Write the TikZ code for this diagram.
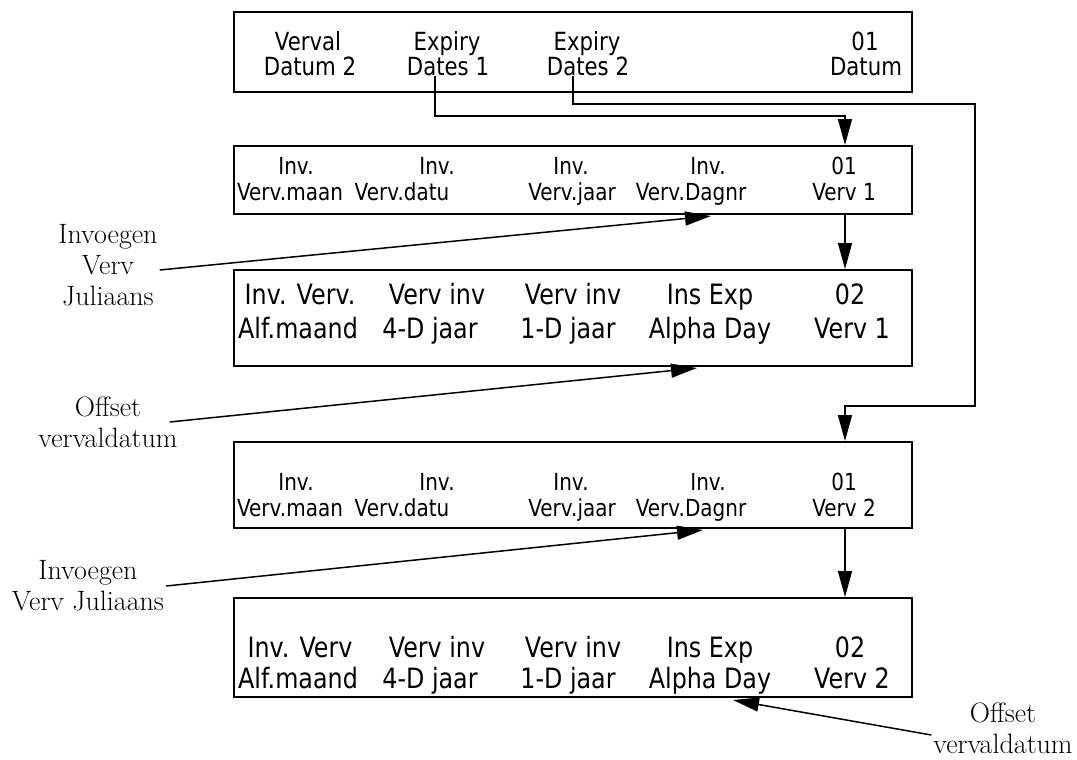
\documentclass[tikz,border=0pt]{standalone}
\usepackage{fontspec}
\newfontfamily\lcdfont{DejaVu Sans}[FakeStretch=0.85]
\usetikzlibrary{arrows.meta}

\begin{document}
\begin{tikzpicture}[x=1pt, y=-1pt, >={Triangle[length=26pt,width=14pt]},
	screen/.style={draw, line width=2pt, fill=white, minimum width=678pt, inner sep=0pt},
	lcd/.style={anchor=mid, inner sep=0pt, font=\lcdfont\fontsize{#1}{#1}\selectfont},
	note/.style={align=center, inner sep=2pt, font=\fontsize{28}{31}\selectfont},
	link/.style={line width=1.5pt}]
	\useasboundingbox (0,0) rectangle (1077,760);
	% screens
	\node[screen, minimum height=80pt] (scr1) at (573,52) {};
	\node[screen, minimum height=68pt] (scr2) at (573,180) {};
	\node[screen, minimum height=96pt] (scr3) at (573,318) {};
	\node[screen, minimum height=86pt] (scr4) at (573,485) {};
	\node[screen, minimum height=99pt] (scr5) at (573,647.5) {};
	% screen texts
	\foreach \a/\b/\s/\t [count=\i] in {308/310/Verval/Datum 2, 447/448/Expiry/Dates 1, 587/588/Expiry/Dates 2, 865/866/01/Datum} {
		\node[lcd=25] (scr1u\i) at (\a,48) {\s};
		\node[lcd=25] (scr1l\i) at (\b,73) {\t};
	}
	\foreach \a/\b/\s/\t [count=\i] in {296/290/Inv./Verv.maan, 437/402/Inv./Verv.datu, 571/572/Inv./Verv.jaar, 708/691/Inv./Verv.Dagnr, 844/844/01/Verv 1} {
		\node[lcd=23.5] (scr2u\i) at (\a,172) {\s};
		\node[lcd=23.5] (scr2l\i) at (\b,198) {\t};
	}
	\foreach \a/\b/\s/\t [count=\i] in {300/298/Inv. Verv./Alf.maand, 437/430/Verv inv/4-D jaar, 573/568/Verv inv/1-D jaar, 710/710/Ins Exp/Alpha Day, 850/852/02/Verv 1} {
		\node[lcd=28] (scr3u\i) at (\a,302) {\s};
		\node[lcd=28] (scr3l\i) at (\b,336) {\t};
	}
	\foreach \a/\b/\s/\t [count=\i] in {296/290/Inv./Verv.maan, 437/402/Inv./Verv.datu, 571/572/Inv./Verv.jaar, 708/691/Inv./Verv.Dagnr, 844/844/01/Verv 2} {
		\node[lcd=23.5] (scr4u\i) at (\a,488) {\s};
		\node[lcd=23.5] (scr4l\i) at (\b,514) {\t};
	}
	\foreach \a/\b/\s/\t [count=\i] in {300/298/Inv. Verv/Alf.maand, 437/430/Verv inv/4-D jaar, 573/568/Verv inv/1-D jaar, 710/710/Ins Exp/Alpha Day, 850/852/02/Verv 2} {
		\node[lcd=28] (scr5u\i) at (\a,655) {\s};
		\node[lcd=28] (scr5l\i) at (\b,686) {\t};
	}
	% notes
	\node[note] (n1) at (108,265) {Invoegen\\Verv\\Juliaans};
	\node[note] (n2) at (108,422) {Offset\\vervaldatum};
	\node[note] (n3) at (88,586) {Invoegen\\Verv Juliaans};
	\node[note] (n4) at (1003,728) {Offset\\vervaldatum};
	% bends and tips
	\coordinate (k1) at (845,116);
	\coordinate (k2) at (975,104);
	\coordinate (k3) at (845,406);
	\coordinate (t1) at (711,216);
	\coordinate (t2) at (697,368);
	\coordinate (t3) at (703,530);
	\coordinate (t4) at (733,700);
	% connectors
	\draw[link,->] ([xshift=-13pt]scr1l2.south) |- (k1) -- (k1 |- scr2.north);
	\draw[link,->] ([xshift=-15pt]scr1l3.south) |- (k2) |- (k3) -- (k3 |- scr4.north);
	\draw[link,->] (k1 |- scr2.south) -- (k1 |- scr3.north);
	\draw[link,->] (k3 |- scr4.south) -- (k3 |- scr5.north);
	\draw[link,->] ([yshift=-5pt]n1.east) -- (t1);
	\draw[link,->] ([xshift=-10pt]n2.east) -- (t2);
	\draw[link,->] (n3.east) -- (t3);
	\draw[link,->] ([yshift=-7pt]n4.west) -- (t4);
\end{tikzpicture}
\end{document}
